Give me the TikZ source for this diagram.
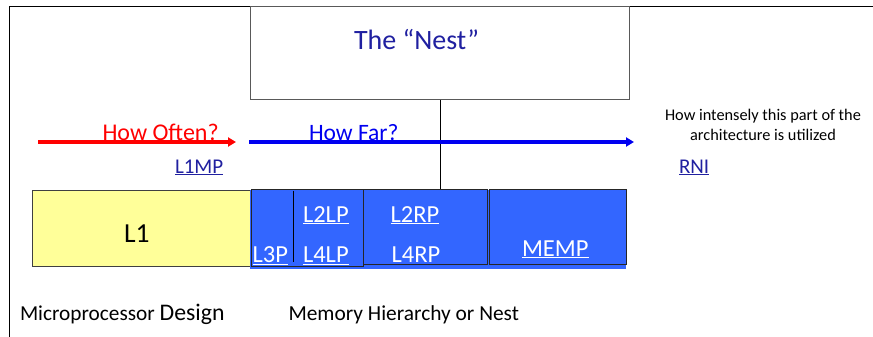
\documentclass[tikz,border=0pt]{standalone}
\usepackage{fontspec}
\setmainfont{Carlito}
\usetikzlibrary{arrows.meta}
\definecolor{linkblue}{RGB}{32,32,160}
\definecolor{boxblue}{RGB}{51,102,255}
\definecolor{paleyellow}{RGB}{255,255,153}
\definecolor{arrred}{RGB}{255,0,0}
\definecolor{arrblue}{RGB}{0,0,240}
\tikzset{
  txt/.style={inner sep=0pt, outer sep=0pt, anchor=base west},
  fsz/.style={font=\fontsize{#1}{#1}\selectfont},
  bluebox/.style={draw=black!85, line width=0.9pt, fill=boxblue, inner sep=0pt, anchor=north west},
  yellowbox/.style={draw=black!75, line width=0.9pt, fill=paleyellow, inner sep=0pt, anchor=north west},
  nestbox/.style={draw=black!65, line width=0.9pt, inner sep=0pt, anchor=north west},
  fatarrow/.style={line width=3.5pt, -{Triangle[length=8pt,width=9pt]}},
  plain/.style={line width=0.9pt, draw=black},
  wtxt/.style={txt, text=white, fsz=24.5},
}
\begin{document}
\begin{tikzpicture}[x=1pt,y=-1pt]
\useasboundingbox (0,0) rectangle (873,337);
% frame
\coordinate (f1) at (9,337);
\coordinate (f2) at (9,6);
\coordinate (f3) at (873,6);
\draw[plain] (f1) -- (f2) -- (f3);
% nest box
\node[nestbox, minimum width=379pt, minimum height=93pt] (nest) at (250,6) {};
\node[txt, fsz=28, text=linkblue] (nesttxt) at (354,50) {The “Nest”};
% L1 box
\node[yellowbox, minimum width=218.3pt, minimum height=75.7pt] (L1) at (31.7,190) {};
\node[txt, fsz=27.5] (L1txt) at (124,242) {L1};
% blue backing
\fill[boxblue] (250,190) rectangle (626,268.7);
% blue boxes
\node[bluebox, minimum width=112pt, minimum height=76.7pt] (bA) at (250.7,189.3) {};
\node[bluebox, minimum width=123.4pt, minimum height=75pt] (bB) at (363.3,189.3) {};
\node[bluebox, minimum width=137.3pt, minimum height=75pt] (bC) at (488.7,189.3) {};
\coordinate (dv1) at (293.3,190.7);
\coordinate (dv2) at (293.3,262.3);
\draw[plain] (dv1) -- (dv2);
% connector from nest
\draw[plain] (nest.south) -- (nest.south |- bB.north);
% blue box labels
\node[wtxt] (l3p) at (252.7,262.5) {\underline{L3P}};
\node[wtxt] (l2lp) at (303,222) {\underline{L2LP}};
\node[wtxt] (l4lp) at (303,262.5) {\underline{L4LP}};
\node[wtxt] (l2rp) at (390.7,222) {\underline{L2RP}};
\node[wtxt] (l4rp) at (391.7,262.5) {L4RP};
\node[wtxt] (memp) at (522,256) {\underline{MEMP}};
% arrows
\coordinate (r1) at (38,142);
\coordinate (r2) at (236,142);
\draw[fatarrow, draw=arrred, fill=arrred] (r1) -- (r2);
\coordinate (b1) at (249,142);
\coordinate (b2) at (634,142);
\draw[fatarrow, draw=arrblue, fill=arrblue] (b1) -- (b2);
\node[txt, fsz=24, text=arrred] (often) at (102.5,140) {How Often?};
\node[txt, fsz=23.5, text=arrblue] (far) at (309,140) {How Far?};
\node[txt, fsz=21, text=linkblue] (l1mp) at (175,173) {\underline{L1MP}};
% right side
\node[inner sep=0pt, anchor=base, fsz=16.3] (int1) at (763,120) {How intensely this part of the};
\node[inner sep=0pt, anchor=base, fsz=16.3] (int2) at (763,140.7) {architecture is utilized};
\node[txt, fsz=21, text=linkblue] (rni) at (679,173) {\underline{RNI}};
% bottom labels
\node[txt, fsz=21.3] (mpd) at (20,320.5) {Microprocessor {\fontsize{23.8}{23.8}\selectfont Design}};
\node[txt, fsz=21.4] (mhn) at (288.5,320) {Memory Hierarchy or Nest};
\end{tikzpicture}
\end{document}
